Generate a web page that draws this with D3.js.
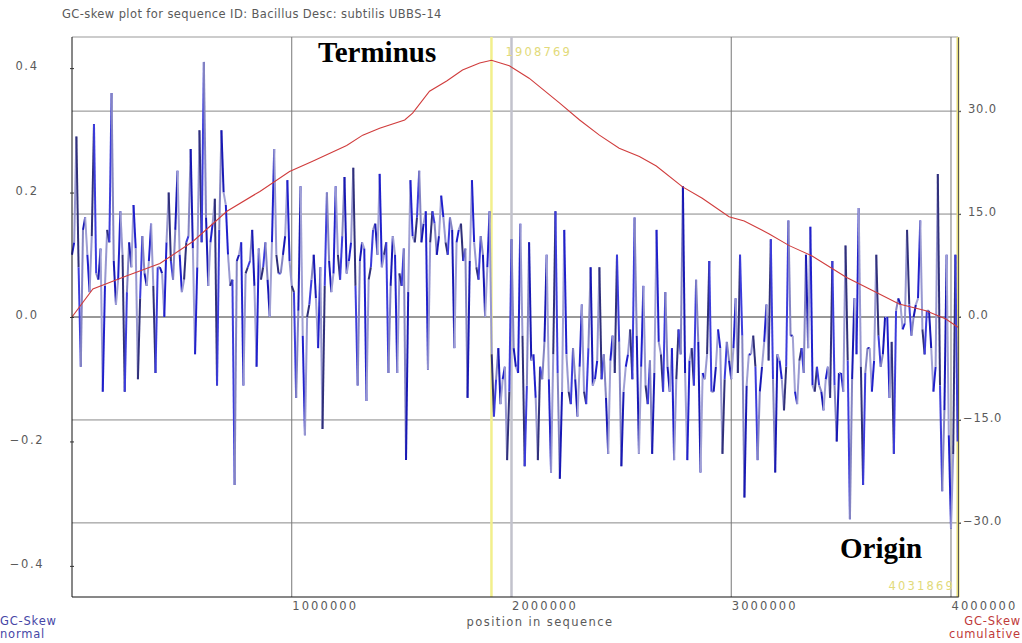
<!DOCTYPE html>
<html>
<head>
<meta charset="utf-8">
<script src="https://cdn.jsdelivr.net/npm/d3@7"></script>
<style>
  body { margin: 0; background: #fff; }
  svg { display: block; }
</style>
</head>
<body>
<svg id="chart"></svg>
<script>
// GC skew per 10 kb window (normal)
const skewStep = 10000;
const skewValues = [
  0.10, 0.12, 0.29, 0.08, -0.08, 0.14, 0.16, 0.10, 0.04, 0.13, 0.31, 0.07, 0.06, 0.11, -0.12, 0.05, 0.14, 0.12, 0.36, 0.09,
  0.02, 0.06, 0.17, 0.10, -0.12, 0.04, 0.12, 0.08, 0.18, 0.11, -0.10, 0.03, 0.13, 0.07, 0.05, 0.09, 0.15, 0.05, -0.09, 0.08,
  0.08, 0.07, 0.00, 0.12, 0.20, 0.09, 0.06, 0.14, 0.235, 0.10, 0.04, 0.06, 0.12, 0.13, 0.27, 0.11, -0.06, 0.08, 0.30, 0.12,
  0.41, 0.16, 0.05, 0.12, 0.15, 0.19, -0.11, 0.14, 0.30, 0.20, 0.18, 0.10, 0.05, 0.06, -0.27, 0.09, 0.10, 0.12, -0.11, 0.07,
  0.08, 0.09, 0.14, 0.05, -0.08, 0.11, 0.06, 0.08, 0.12, 0.06, 0.00, 0.12, 0.27, 0.10, 0.07, 0.07, 0.10, 0.13, 0.22, 0.09,
  0.05, 0.04, -0.13, 0.01, 0.21, -0.03, -0.19, 0.00, 0.02, 0.06, 0.10, 0.03, -0.05, 0.08, -0.18, 0.05, 0.20, 0.09, 0.04, 0.07,
  0.21, 0.10, 0.06, 0.13, 0.225, 0.07, 0.09, 0.12, 0.24, 0.05, -0.11, 0.09, 0.12, 0.11, -0.135, 0.06, 0.08, 0.14, 0.15, 0.10,
  0.23, 0.08, 0.10, 0.12, -0.09, 0.05, 0.13, 0.10, -0.09, 0.07, 0.05, 0.11, -0.23, 0.04, 0.22, 0.13, 0.12, 0.16, 0.235, 0.12,
  0.15, 0.17, -0.085, 0.12, 0.17, 0.15, 0.10, 0.13, 0.195, 0.16, 0.12, 0.10, 0.16, 0.14, -0.05, 0.12, 0.14, 0.15, 0.09, 0.11,
  -0.13, 0.09, 0.22, 0.12, 0.08, 0.06, 0.13, 0.10, 0.00, 0.08, 0.17, -0.06, -0.16, -0.10, -0.05, -0.14, -0.10, -0.08, -0.23, -0.12,
  0.125, -0.05, -0.08, -0.09, 0.15, -0.03, -0.24, -0.11, 0.12, -0.07, -0.06, -0.13, -0.23, -0.08, -0.10, -0.04, 0.10, -0.10, -0.25, -0.06,
  0.17, -0.09, -0.26, -0.12, 0.14, -0.06, -0.12, -0.14, -0.05, -0.10, -0.16, -0.08, 0.02, -0.12, -0.14, -0.05, 0.08, -0.11, -0.10, -0.07,
  0.08, -0.10, -0.06, -0.13, -0.22, -0.07, -0.03, -0.09, 0.10, -0.04, -0.24, -0.12, -0.08, -0.06, -0.02, -0.10, 0.16, -0.03, -0.22, -0.08,
  0.05, -0.11, -0.14, -0.07, -0.22, -0.09, 0.14, -0.04, -0.06, -0.12, 0.04, -0.08, -0.12, -0.05, -0.23, -0.10, -0.02, -0.06, 0.21, -0.09,
  -0.23, -0.07, -0.05, -0.11, 0.06, -0.04, -0.25, -0.09, -0.10, -0.06, 0.09, -0.12, -0.12, -0.08, -0.02, -0.05, -0.22, -0.10, -0.04, -0.07,
  -0.10, -0.05, 0.03, -0.09, 0.10, -0.03, -0.29, -0.11, -0.06, -0.06, -0.03, -0.08, -0.23, -0.12, -0.08, -0.04, 0.02, -0.07, 0.125, -0.10,
  -0.25, -0.06, -0.07, -0.10, -0.15, -0.08, 0.155, -0.03, -0.03, -0.12, -0.14, -0.07, -0.05, -0.09, 0.10, -0.05, 0.145, -0.11, -0.12, -0.08,
  -0.11, -0.12, -0.15, -0.10, -0.08, -0.13, 0.09, -0.11, -0.20, -0.09, -0.09, -0.12, 0.115, -0.07, -0.325, -0.10, 0.03, -0.06, 0.175, -0.08,
  -0.27, -0.09, -0.05, -0.05, -0.12, -0.07, 0.10, -0.03, -0.08, -0.06, 0.00, 0.00, -0.13, -0.04, -0.22, 0.01, 0.03, 0.02, -0.02, -0.01,
  0.14, 0.02, -0.03, 0.00, 0.02, 0.03, 0.155, -0.02, -0.06, 0.01, 0.01, -0.05, -0.12, -0.08, 0.23, -0.11, -0.28, -0.15, 0.10, -0.19,
  -0.34, -0.22, 0.10, -0.20
];

// cumulative GC skew
const cumPositions = [0, 95000, 250000, 400000, 550000, 705000, 855000, 990000,
  1095000, 1250000, 1323000, 1400000, 1514000, 1550000, 1627000, 1705000,
  1777000, 1855000, 1908769, 1990000, 2080000, 2218000, 2310000, 2400000,
  2490000, 2582000, 2659000, 2777000, 2868000, 2990000, 3059000, 3173000,
  3264000, 3368000, 3523000, 3627000, 3764000, 3886000, 3977000, 4031869];
const cumValues = [0, 4.1, 6.0, 7.8, 11.0, 15.4, 18.3, 21.2,
  22.7, 25.0, 26.5, 27.5, 28.7, 29.7, 32.9, 34.4,
  36.0, 37.0, 37.4, 36.6, 34.8, 31.2, 28.7, 26.5,
  24.6, 23.4, 22.0, 19.0, 17.3, 14.6, 14.0, 12.1,
  10.4, 8.9, 5.8, 4.1, 1.9, 0.9, -0.3, -1.5];

const seqLength = 4031869;
const terminusPos = 1908769;
const xTicks = [1000000, 2000000, 3000000, 4000000];
const leftTicks = [-0.4, -0.2, 0.0, 0.2, 0.4];
const rightTicks = [-30, -15, 0, 15, 30];

const width = 1022, height = 643;
const plotLeft = 72, plotRight = 958, plotTop = 37, plotBottom = 597;
const sans = "DejaVu Sans, sans-serif";
const serif = "Liberation Serif, Times New Roman, serif";
const labelGray = "#5a5a5a";

const svg = d3.select("#chart").attr("width", width).attr("height", height)
    .style("font-family", sans);

const x = d3.scaleLinear().domain([0, seqLength]).range([plotLeft, plotRight]);
const yL = d3.scaleLinear().domain([-0.45, 0.45]).range([plotBottom, plotTop]);
const yR = d3.scaleLinear().domain([-40.8, 40.8]).range([plotBottom, plotTop]);

// title
svg.append("text")
    .attr("x", 62).attr("y", 18)
    .style("font-size", "11.5px").style("letter-spacing", "0.4px")
    .attr("fill", labelGray)
    .text("GC-skew plot for sequence ID: Bacillus Desc: subtilis UBBS-14");

// top border
svg.append("line")
    .attr("x1", plotLeft).attr("x2", plotRight).attr("y1", plotTop).attr("y2", plotTop)
    .attr("stroke", "#999");

// horizontal grid (right axis values)
svg.append("g").selectAll("line")
    .data(rightTicks)
    .join("line")
    .attr("x1", plotLeft).attr("x2", plotRight + 3)
    .attr("y1", d => yR(d)).attr("y2", d => yR(d))
    .attr("stroke", d => d === 0 ? "#333" : "#888")
    .attr("stroke-width", 1);

// vertical grid
svg.append("g").selectAll("line")
    .data(xTicks)
    .join("line")
    .attr("x1", d => x(d)).attr("x2", d => x(d))
    .attr("y1", plotTop).attr("y2", plotBottom)
    .attr("stroke", d => d === 2000000 ? "#c2c2cc" : "#777")
    .attr("stroke-width", d => d === 2000000 ? 2.5 : 1);

// yellow markers
svg.append("line")
    .attr("x1", x(terminusPos)).attr("x2", x(terminusPos))
    .attr("y1", plotTop).attr("y2", plotBottom)
    .attr("stroke", "#f2ef8c").attr("stroke-width", 2.5);
svg.append("line")
    .attr("x1", x(seqLength)).attr("x2", x(seqLength))
    .attr("y1", plotTop).attr("y2", plotBottom)
    .attr("stroke", "#e6dc78").attr("stroke-width", 3);

// GC skew normal, drawn segment by segment
const skewPts = skewValues.map((v, i) => [i * skewStep, v]);
const segColors = ["#2020cc", "#9797d0", "#30307a", "#3c3cdc", "#8484c2", "#1818b4", "#a0a0d4"];
svg.append("g").selectAll("line")
    .data(d3.pairs(skewPts))
    .join("line")
    .attr("x1", d => x(d[0][0])).attr("y1", d => yL(d[0][1]))
    .attr("x2", d => x(d[1][0])).attr("y2", d => yL(d[1][1]))
    .attr("stroke", (d, i) => segColors[i % segColors.length])
    .attr("stroke-width", 2);

// cumulative
const cumLine = d3.line()
    .x((d, i) => x(cumPositions[i]))
    .y(d => yR(d));
svg.append("path")
    .datum(cumValues)
    .attr("d", cumLine)
    .attr("fill", "none")
    .attr("stroke", "#d03c3c")
    .attr("stroke-width", 1.1);

// left axis
const axL = svg.append("g")
    .attr("transform", `translate(${plotLeft},0)`)
    .call(d3.axisLeft(yL).tickValues(leftTicks).tickFormat(d3.format(".1f")).tickSize(2).tickSizeOuter(0));
axL.select(".domain").attr("stroke", "#111").attr("d", `M0,${plotTop}V${plotBottom}`);
axL.selectAll(".tick line").attr("x2", 2).attr("x1", -2).attr("stroke", "#333");
axL.selectAll(".tick text")
    .attr("x", -45).attr("dy", "0.15em").attr("text-anchor", "middle")
    .attr("fill", labelGray)
    .style("font-size", "11.5px").style("letter-spacing", "1.6px").style("font-family", sans);

// right axis
const axR = svg.append("g")
    .attr("transform", `translate(${plotRight},0)`)
    .call(d3.axisRight(yR).tickValues(rightTicks).tickFormat(d3.format(".1f")).tickSize(3).tickSizeOuter(0));
axR.select(".domain").attr("stroke", "#555").attr("stroke-width", 1);
axR.selectAll(".tick line").attr("stroke", "#555");
axR.selectAll(".tick text")
    .attr("x", d => d < 0 ? 5 : 10).attr("dy", "0.15em")
    .attr("fill", labelGray)
    .style("font-size", "11.5px").style("letter-spacing", "0.8px").style("font-family", sans);

// bottom axis
const axB = svg.append("g")
    .attr("transform", `translate(0,${plotBottom})`)
    .call(d3.axisBottom(x).tickValues(xTicks).tickFormat(d3.format("d")).tickSize(0).tickSizeOuter(0));
axB.select(".domain").attr("stroke", "#111").attr("d", `M${plotLeft},0H${plotRight}`);
axB.selectAll(".tick text")
    .attr("text-anchor", "start").attr("y", 5)
    .attr("fill", labelGray)
    .style("font-size", "11.5px").style("letter-spacing", "2.1px").style("font-family", sans);

// axis titles
svg.append("text")
    .attr("x", 540).attr("y", 626).attr("text-anchor", "middle")
    .attr("fill", labelGray)
    .style("font-size", "11.5px").style("letter-spacing", "1.4px")
    .text("position in sequence");
svg.append("g").attr("fill", "#4646a6")
    .style("font-size", "11.5px").style("letter-spacing", "0.8px")
    .selectAll("text").data(["GC-Skew", "normal"]).join("text")
    .attr("x", 0).attr("y", (d, i) => 625 + i * 13).text(d => d);
svg.append("g").attr("fill", "#c03a3a").attr("text-anchor", "end")
    .style("font-size", "11.5px").style("letter-spacing", "0.8px")
    .selectAll("text").data(["GC-Skew", "cumulative"]).join("text")
    .attr("x", 1021).attr("y", (d, i) => 625 + i * 13).text(d => d);

// marker labels
svg.append("text")
    .attr("x", x(terminusPos) + 14).attr("y", 56)
    .attr("fill", "#e2da7a")
    .style("font-size", "11.5px").style("letter-spacing", "2.2px")
    .text(terminusPos);
svg.append("text")
    .attr("x", x(seqLength) - 3).attr("y", 590).attr("text-anchor", "end")
    .attr("fill", "#e2da7a")
    .style("font-size", "11.5px").style("letter-spacing", "2.2px")
    .text(seqLength);

// annotations
svg.append("text")
    .attr("x", 318).attr("y", 62)
    .attr("fill", "#000")
    .style("font-family", serif).style("font-weight", "bold").style("font-size", "29px")
    .text("Terminus");
svg.append("text")
    .attr("x", 840).attr("y", 558)
    .attr("fill", "#000")
    .style("font-family", serif).style("font-weight", "bold").style("font-size", "29px")
    .text("Origin");
</script>
</body>
</html>
